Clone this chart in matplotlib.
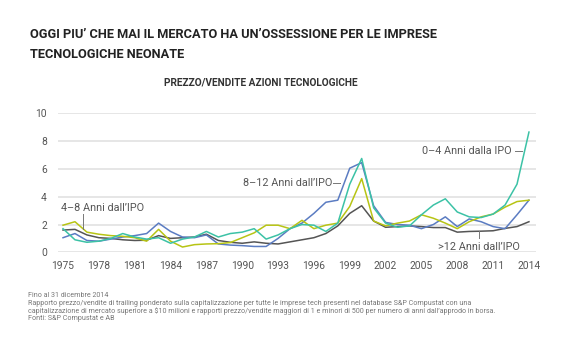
import matplotlib.pyplot as plt

years = list(range(1975, 2015))

anni_0_4 = [1.7, 0.9, 0.72, 0.8, 1.0, 1.35, 1.1, 0.95, 1.05, 0.65,
            0.95, 1.1, 1.5, 1.1, 1.35, 1.45, 1.7, 0.95, 1.25, 1.7,
            2.0, 1.95, 1.5, 2.1, 4.9, 6.75, 3.2, 2.1, 1.8, 1.9,
            2.7, 3.4, 3.85, 2.9, 2.55, 2.5, 2.75, 3.4, 4.9, 8.65]
anni_4_8 = [1.95, 2.2, 1.45, 1.3, 1.2, 1.15, 1.05, 0.8, 1.65, 0.8,
            0.38, 0.55, 0.6, 0.62, 0.7, 1.05, 1.4, 1.95, 1.95, 1.7,
            2.3, 1.7, 1.95, 2.1, 3.3, 5.3, 2.25, 1.9, 2.1, 2.25,
            2.7, 2.45, 2.1, 1.7, 2.2, 2.55, 2.75, 3.25, 3.65, 3.75]
anni_8_12 = [1.05, 1.35, 0.85, 0.8, 0.95, 1.1, 1.2, 1.35, 2.1, 1.5,
             1.1, 1.05, 1.25, 0.6, 0.52, 0.48, 0.42, 0.42, 1.0, 1.7,
             2.1, 2.8, 3.6, 3.75, 6.05, 6.45, 3.35, 2.15, 2.0, 1.95,
             1.7, 2.0, 2.55, 1.85, 2.4, 2.2, 1.85, 1.7, 2.7, 3.75]
anni_12 = [1.6, 1.65, 1.25, 1.05, 1.0, 0.9, 0.85, 0.87, 1.2, 1.0,
           1.05, 1.1, 1.3, 0.85, 0.72, 0.65, 0.75, 0.65, 0.6, 0.75,
           0.9, 1.05, 1.35, 1.9, 2.8, 3.35, 2.25, 1.8, 1.85, 1.9,
           1.85, 1.78, 1.78, 1.45, 1.5, 1.52, 1.55, 1.72, 1.85, 2.2]

tick_years = list(range(1975, 2015, 3))
tick_vals = [0, 2, 4, 6, 8, 10]

plt.rcParams['font.family'] = ['Roboto', 'DejaVu Sans']

fig = plt.figure(figsize=(5.8, 3.6), dpi=100)
ax = fig.add_axes([58 / 580, 1 - 252.3 / 360, 478 / 580, 139 / 360])

for v in tick_vals:
    ax.axhline(v, color='#e2e2e2', lw=1.2, zorder=0)

ax.plot(years, anni_12, color='#555555', lw=1.1, clip_on=False)
ax.plot(years, anni_8_12, color='#5b7cc2', lw=1.1, clip_on=False)
ax.plot(years, anni_4_8, color='#b7c414', lw=1.1, clip_on=False)
ax.plot(years, anni_0_4, color='#3cc2a6', lw=1.1, clip_on=False)

ax.set_xlim(1974.58, 2014.59)
ax.set_ylim(0, 10)
ax.set_xticks(tick_years)
ax.set_yticks(tick_vals)
ax.tick_params(length=0, labelsize=7.4, labelcolor='#555555', pad=6)
ax.tick_params(axis='y', pad=8)
for s in ax.spines.values():
    s.set_visible(False)

lab = dict(fontsize=7.8, color='#555555')
ax.text(2005.05, 7.3, '0–4 Anni dalla IPO', ha='left', va='center', **lab)
ax.plot([2012.8, 2013.4], [7.3, 7.3], color='#777777', lw=0.7)
ax.text(1990.06, 4.96, '8–12 Anni dall’IPO', ha='left', va='center', **lab)
ax.plot([1997.6, 1998.2], [4.96, 4.96], color='#777777', lw=0.7)
ax.text(1974.83, 3.2, '4–8 Anni dall’IPO', ha='left', va='center', **lab)
ax.plot([1976.67, 1976.67], [2.75, 1.7], color='#777777', lw=0.7)
ax.text(2006.4, 0.4, '>12 Anni dall’IPO', ha='left', va='center', **lab)
ax.plot([2009.8, 2009.8], [1.05, 1.5], color='#777777', lw=0.7)

fig.text(30 / 580, 1 - 35 / 360, 'OGGI PIU’ CHE MAI IL MERCATO HA UN’OSSESSIONE PER LE IMPRESE',
         fontsize=9.2, fontweight='bold', color='#222222', va='center')
fig.text(30 / 580, 1 - 55 / 360, 'TECNOLOGICHE NEONATE',
         fontsize=9.2, fontweight='bold', color='#222222', va='center')
fig.text(261 / 580, 1 - 83 / 360, 'PREZZO/VENDITE AZIONI TECNOLOGICHE',
         fontsize=7.3, fontweight='bold', color='#333333', ha='center', va='center')

notes = [
    'Fino al 31 dicembre 2014',
    'Rapporto prezzo/vendite di trailing ponderato sulla capitalizzazione per tutte le imprese tech presenti nel database S&P Compustat con una',
    'capitalizzazione di mercato superiore a $10 milioni e rapporti prezzo/vendite maggiori di 1 e minori di 500 per numero di anni dall’approdo in borsa.',
    'Fonti: S&P Compustat e AB',
]
for i, t in enumerate(notes):
    fig.text(28 / 580, 1 - (295.5 + i * 7.6) / 360, t, fontsize=5.1,
             color='#777777', va='center')

fig.savefig('out.png', dpi=100, facecolor='white')
